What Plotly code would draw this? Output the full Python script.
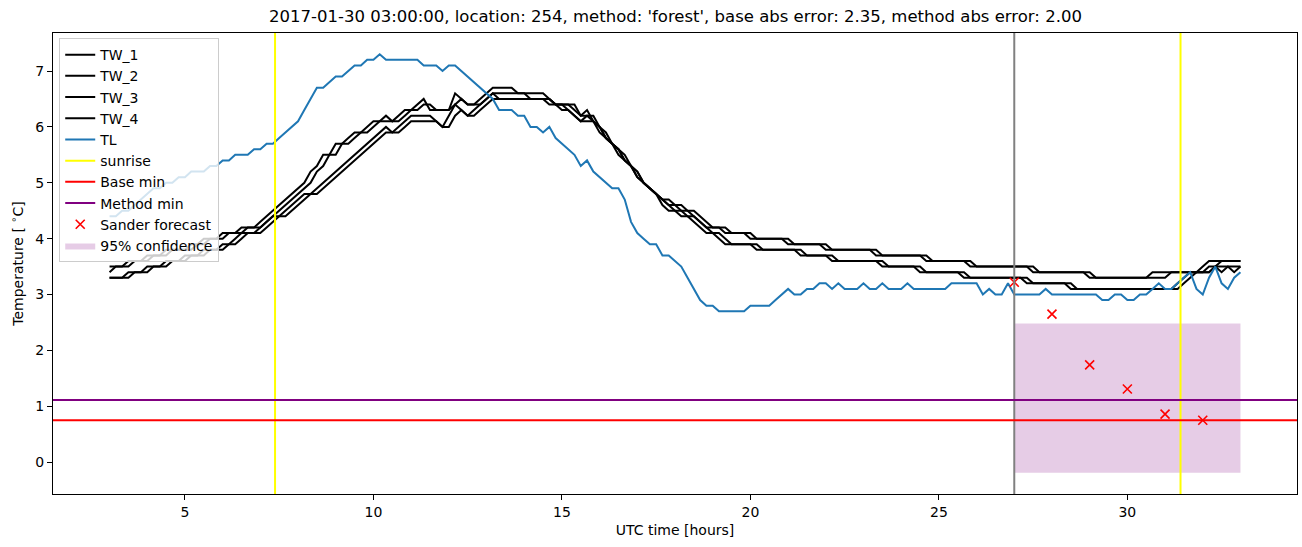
import plotly.graph_objects as go

# ---------------- data ----------------
t_start = 3.0          # hours (UTC) of first sample
step_h = 1.0 / 6.0     # 10-minute samples

TL = [
    4.4, 4.4, 4.5, 4.5, 4.6, 4.7,
    4.8, 4.9, 4.9, 5.0, 5.0, 5.1,
    5.1, 5.2, 5.2, 5.2, 5.3, 5.3,
    5.4, 5.4, 5.5, 5.5, 5.5, 5.6,
    5.6, 5.7, 5.7, 5.8, 5.9, 6.0,
    6.1, 6.3, 6.5, 6.7, 6.7, 6.8,
    6.9, 6.9, 7.0, 7.1, 7.1, 7.2,
    7.2, 7.3, 7.2, 7.2, 7.2, 7.2,
    7.2, 7.2, 7.1, 7.1, 7.1, 7.0,
    7.1, 7.1, 7.0, 6.9, 6.8, 6.7,
    6.6, 6.5, 6.3, 6.3, 6.3, 6.2,
    6.2, 6.0, 6.0, 5.9, 6.0, 5.8,
    5.7, 5.6, 5.5, 5.3, 5.4, 5.2,
    5.1, 5.0, 4.9, 4.9, 4.7, 4.3,
    4.1, 4.0, 3.9, 3.9, 3.7, 3.7,
    3.6, 3.5, 3.3, 3.1, 2.9, 2.8,
    2.8, 2.7, 2.7, 2.7, 2.7, 2.7,
    2.8, 2.8, 2.8, 2.8, 2.9, 3.0,
    3.1, 3.0, 3.0, 3.1, 3.1, 3.2,
    3.2, 3.1, 3.2, 3.1, 3.1, 3.1,
    3.2, 3.1, 3.1, 3.2, 3.1, 3.1,
    3.1, 3.2, 3.1, 3.1, 3.1, 3.1,
    3.1, 3.1, 3.2, 3.2, 3.2, 3.2,
    3.2, 3.0, 3.1, 3.0, 3.0, 3.2,
    3.0, 3.0, 3.0, 3.0, 3.0, 3.1,
    3.0, 3.0, 3.0, 3.0, 3.0, 3.0,
    3.0, 3.0, 2.9, 2.9, 3.0, 3.0,
    2.9, 2.9, 3.0, 3.0, 3.1, 3.2,
    3.1, 3.1, 3.2, 3.3, 3.4, 3.1,
    3.0, 3.3, 3.5, 3.2, 3.1, 3.3,
    3.4,
]

TW_1 = [
    3.5, 3.5, 3.5, 3.6, 3.6, 3.6,
    3.7, 3.7, 3.7, 3.8, 3.8, 3.8,
    3.8, 3.9, 3.9, 4.0, 4.0, 4.0,
    4.1, 4.1, 4.1, 4.2, 4.2, 4.2,
    4.3, 4.4, 4.5, 4.6, 4.7, 4.8,
    4.9, 5.0, 5.2, 5.3, 5.5, 5.5,
    5.7, 5.7, 5.8, 5.9, 5.9, 6.0,
    6.1, 6.1, 6.2, 6.1, 6.2, 6.3,
    6.3, 6.4, 6.5, 6.3, 6.3, 6.3,
    6.3, 6.6, 6.5, 6.4, 6.4, 6.5,
    6.6, 6.7, 6.7, 6.7, 6.7, 6.6,
    6.6, 6.6, 6.6, 6.6, 6.5, 6.4,
    6.4, 6.4, 6.3, 6.2, 6.3, 6.1,
    6.0, 5.8, 5.7, 5.6, 5.4, 5.3,
    5.1, 5.0, 4.9, 4.8, 4.7, 4.6,
    4.6, 4.5, 4.5, 4.4, 4.3, 4.2,
    4.2, 4.2, 4.1, 4.1, 4.1, 4.1,
    4.0, 4.0, 4.0, 4.0, 4.0, 4.0,
    3.9, 3.9, 3.9, 3.9, 3.9, 3.9,
    3.8, 3.8, 3.8, 3.8, 3.8, 3.8,
    3.8, 3.8, 3.7, 3.7, 3.7, 3.7,
    3.7, 3.7, 3.7, 3.7, 3.6, 3.6,
    3.6, 3.6, 3.6, 3.6, 3.6, 3.5,
    3.5, 3.5, 3.5, 3.5, 3.5, 3.5,
    3.5, 3.5, 3.5, 3.4, 3.4, 3.4,
    3.4, 3.4, 3.4, 3.4, 3.4, 3.4,
    3.3, 3.3, 3.3, 3.3, 3.3, 3.3,
    3.3, 3.3, 3.3, 3.3, 3.4, 3.4,
    3.4, 3.4, 3.4, 3.4, 3.4, 3.4,
    3.5, 3.6, 3.6, 3.6, 3.6, 3.6,
    3.6,
]

TW_2 = [
    3.4, 3.5, 3.5, 3.5, 3.6, 3.6,
    3.6, 3.7, 3.7, 3.7, 3.8, 3.8,
    3.8, 3.8, 3.9, 3.9, 4.0, 4.0,
    4.0, 4.1, 4.1, 4.1, 4.2, 4.2,
    4.2, 4.3, 4.4, 4.5, 4.6, 4.7,
    4.8, 4.9, 5.0, 5.2, 5.3, 5.5,
    5.5, 5.7, 5.7, 5.8, 5.9, 5.9,
    6.0, 6.1, 6.1, 6.1, 6.1, 6.2,
    6.3, 6.3, 6.4, 6.4, 6.3, 6.3,
    6.3, 6.4, 6.5, 6.4, 6.4, 6.4,
    6.5, 6.6, 6.6, 6.6, 6.6, 6.6,
    6.6, 6.5, 6.5, 6.5, 6.5, 6.4,
    6.4, 6.4, 6.4, 6.2, 6.2, 6.2,
    6.0, 5.9, 5.7, 5.6, 5.5, 5.3,
    5.2, 5.0, 4.9, 4.8, 4.7, 4.7,
    4.6, 4.6, 4.5, 4.5, 4.4, 4.3,
    4.2, 4.2, 4.2, 4.1, 4.1, 4.1,
    4.1, 4.0, 4.0, 4.0, 4.0, 4.0,
    4.0, 3.9, 3.9, 3.9, 3.9, 3.9,
    3.9, 3.8, 3.8, 3.8, 3.8, 3.8,
    3.8, 3.8, 3.8, 3.7, 3.7, 3.7,
    3.7, 3.7, 3.7, 3.7, 3.7, 3.6,
    3.6, 3.6, 3.6, 3.6, 3.6, 3.6,
    3.5, 3.5, 3.5, 3.5, 3.5, 3.5,
    3.5, 3.5, 3.5, 3.5, 3.4, 3.4,
    3.4, 3.4, 3.4, 3.4, 3.4, 3.4,
    3.4, 3.3, 3.3, 3.3, 3.3, 3.3,
    3.3, 3.3, 3.3, 3.3, 3.3, 3.3,
    3.3, 3.4, 3.4, 3.4, 3.4, 3.4,
    3.4, 3.5, 3.5, 3.6, 3.6, 3.6,
    3.6,
]

TW_3 = [
    3.3, 3.3, 3.3, 3.4, 3.4, 3.4,
    3.5, 3.5, 3.5, 3.6, 3.6, 3.6,
    3.7, 3.7, 3.7, 3.8, 3.8, 3.8,
    3.9, 3.9, 4.0, 4.1, 4.1, 4.1,
    4.2, 4.3, 4.4, 4.4, 4.5, 4.6,
    4.7, 4.8, 4.8, 4.9, 5.0, 5.1,
    5.2, 5.3, 5.4, 5.5, 5.6, 5.7,
    5.8, 5.9, 6.0, 5.9, 6.0, 6.1,
    6.2, 6.2, 6.2, 6.2, 6.1, 6.0,
    6.2, 6.4, 6.3, 6.2, 6.3, 6.4,
    6.5, 6.6, 6.5, 6.5, 6.5, 6.5,
    6.5, 6.5, 6.5, 6.5, 6.4, 6.4,
    6.3, 6.3, 6.2, 6.1, 6.2, 6.1,
    5.9, 5.8, 5.7, 5.5, 5.4, 5.3,
    5.1, 5.0, 4.9, 4.8, 4.6, 4.5,
    4.5, 4.4, 4.4, 4.3, 4.2, 4.1,
    4.1, 4.0, 3.9, 3.9, 3.9, 3.9,
    3.9, 3.8, 3.8, 3.8, 3.8, 3.8,
    3.8, 3.8, 3.7, 3.7, 3.7, 3.7,
    3.7, 3.6, 3.6, 3.6, 3.6, 3.6,
    3.6, 3.6, 3.6, 3.5, 3.5, 3.5,
    3.5, 3.5, 3.5, 3.4, 3.4, 3.4,
    3.4, 3.4, 3.4, 3.4, 3.3, 3.3,
    3.3, 3.3, 3.3, 3.3, 3.3, 3.3,
    3.3, 3.3, 3.2, 3.2, 3.2, 3.2,
    3.2, 3.2, 3.2, 3.1, 3.1, 3.1,
    3.1, 3.1, 3.1, 3.1, 3.1, 3.1,
    3.1, 3.1, 3.1, 3.1, 3.1, 3.1,
    3.1, 3.1, 3.2, 3.3, 3.4, 3.4,
    3.4, 3.4, 3.5, 3.4, 3.5, 3.5,
    3.5,
]

TW_4 = [
    3.3, 3.3, 3.3, 3.3, 3.4, 3.4,
    3.4, 3.5, 3.5, 3.5, 3.6, 3.6,
    3.6, 3.7, 3.7, 3.7, 3.8, 3.8,
    3.8, 3.9, 3.9, 4.0, 4.1, 4.1,
    4.1, 4.2, 4.3, 4.4, 4.4, 4.5,
    4.6, 4.7, 4.8, 4.8, 4.9, 5.0,
    5.1, 5.2, 5.3, 5.4, 5.5, 5.6,
    5.7, 5.8, 5.9, 5.9, 5.9, 6.0,
    6.1, 6.1, 6.1, 6.1, 6.1, 6.0,
    6.0, 6.2, 6.3, 6.2, 6.2, 6.3,
    6.4, 6.5, 6.5, 6.5, 6.5, 6.5,
    6.5, 6.5, 6.5, 6.5, 6.5, 6.4,
    6.4, 6.3, 6.2, 6.1, 6.1, 6.1,
    6.0, 5.8, 5.7, 5.6, 5.4, 5.3,
    5.2, 5.0, 4.9, 4.8, 4.7, 4.6,
    4.5, 4.5, 4.4, 4.4, 4.3, 4.2,
    4.1, 4.1, 4.0, 3.9, 3.9, 3.9,
    3.9, 3.9, 3.8, 3.8, 3.8, 3.8,
    3.8, 3.8, 3.8, 3.7, 3.7, 3.7,
    3.7, 3.7, 3.6, 3.6, 3.6, 3.6,
    3.6, 3.6, 3.6, 3.6, 3.5, 3.5,
    3.5, 3.5, 3.5, 3.5, 3.4, 3.4,
    3.4, 3.4, 3.4, 3.4, 3.4, 3.3,
    3.3, 3.3, 3.3, 3.3, 3.3, 3.3,
    3.3, 3.3, 3.3, 3.2, 3.2, 3.2,
    3.2, 3.2, 3.2, 3.2, 3.1, 3.1,
    3.1, 3.1, 3.1, 3.1, 3.1, 3.1,
    3.1, 3.1, 3.1, 3.1, 3.1, 3.1,
    3.1, 3.1, 3.1, 3.2, 3.3, 3.4,
    3.4, 3.4, 3.5, 3.5, 3.5, 3.4,
    3.5,
]

sunrise_hours = [7.39, 31.41]
forecast_start = 27.0
base_min = 0.75
method_min = 1.11

forecast_hours = [27, 28, 29, 30, 31, 32]
forecast_temp = [3.22, 2.65, 1.74, 1.31, 0.86, 0.75]

conf_hours = [27.0, 33.0]
conf_low = [-0.19, -0.19]
conf_high = [2.48, 2.48]

x_ticks = [5, 10, 15, 20, 25, 30]
y_ticks = [0, 1, 2, 3, 4, 5, 6, 7]

title_text = ("2017-01-30 03:00:00, location: 254, method: 'forest', "
              "base abs error: 2.35, method abs error: 2.00")

# ---------------- figure ----------------
hours = [t_start + i * step_h for i in range(len(TL))]
FONT = "DejaVu Sans, Liberation Sans, sans-serif"

fig = go.Figure()

# confidence band (drawn first, listed last)
fig.add_trace(go.Scatter(
    x=conf_hours + conf_hours[::-1],
    y=conf_high + conf_low[::-1],
    fill="toself", fillcolor="rgba(128,0,128,0.2)",
    line=dict(width=0), mode="lines", name="95% confidence",
    legendrank=1010, hoverinfo="skip"))

rank = 1
for name, series in [("TW_1", TW_1), ("TW_2", TW_2), ("TW_3", TW_3), ("TW_4", TW_4)]:
    fig.add_trace(go.Scatter(x=hours, y=series, mode="lines", name=name,
                             line=dict(color="black", width=2), legendrank=rank))
    rank += 1

fig.add_trace(go.Scatter(x=hours, y=TL, mode="lines", name="TL",
                         line=dict(color="#1f77b4", width=2), legendrank=5))

# legend entries for the reference lines (drawn as shapes)
for name, color, r in [("sunrise", "yellow", 6), ("Base min", "red", 7),
                       ("Method min", "purple", 8)]:
    fig.add_trace(go.Scatter(x=[None], y=[None], mode="lines", name=name,
                             line=dict(color=color, width=2), legendrank=r))

fig.add_trace(go.Scatter(x=forecast_hours, y=forecast_temp, mode="markers",
                         name="Sander forecast", legendrank=9,
                         marker=dict(symbol="x-thin", size=9, color="red",
                                     line=dict(color="red", width=1.6))))

# reference lines
for h in sunrise_hours:
    fig.add_shape(type="line", xref="x", yref="paper", x0=h, x1=h, y0=0, y1=1,
                  line=dict(color="yellow", width=2), layer="above")
fig.add_shape(type="line", xref="x", yref="paper", x0=forecast_start, x1=forecast_start,
              y0=0, y1=1, line=dict(color="gray", width=2), layer="above")
fig.add_shape(type="line", xref="paper", yref="y", x0=0, x1=1, y0=base_min, y1=base_min,
              line=dict(color="red", width=2), layer="above")
fig.add_shape(type="line", xref="paper", yref="y", x0=0, x1=1, y0=method_min, y1=method_min,
              line=dict(color="purple", width=2), layer="above")

axis_common = dict(showgrid=False, zeroline=False, showline=True, linecolor="black",
                   linewidth=1, mirror=True, ticks="outside", ticklen=5, tickwidth=1,
                   tickcolor="black", automargin=False,
                   tickfont=dict(family=FONT, size=14, color="black"))

fig.add_annotation(text=title_text, xref="paper", yref="paper", x=0.5,
                   y=1 + 16 / 461, xanchor="center", yanchor="middle",
                   showarrow=False, font=dict(family=FONT, size=16.5, color="black"))

fig.update_layout(
    width=1302, height=547,
    margin=dict(l=53, r=5, t=33, b=53, autoexpand=False),
    paper_bgcolor="white", plot_bgcolor="white",
    font=dict(family=FONT, size=14, color="black"),
    xaxis=dict(range=[1.5, 34.5], tickvals=x_ticks,
               title=dict(text="UTC time [hours]", standoff=6,
                          font=dict(family=FONT, size=14)),
               **axis_common),
    yaxis=dict(range=[-0.57, 7.68], tickvals=y_ticks,
               title=dict(text="Temperature [ <sup>∘</sup>C]", standoff=8,
                          font=dict(family=FONT, size=14)),
               **axis_common),
    legend=dict(x=0.005, y=0.989, xanchor="left", yanchor="top",
                bgcolor="rgba(255,255,255,0.8)", bordercolor="#cccccc", borderwidth=1,
                font=dict(family=FONT, size=14), itemwidth=30, tracegroupgap=0),
    showlegend=True,
)

fig.write_html("out.html",
               config={"displayModeBar": False},
               post_script="document.body.style.margin='0';document.body.style.padding='0';")
